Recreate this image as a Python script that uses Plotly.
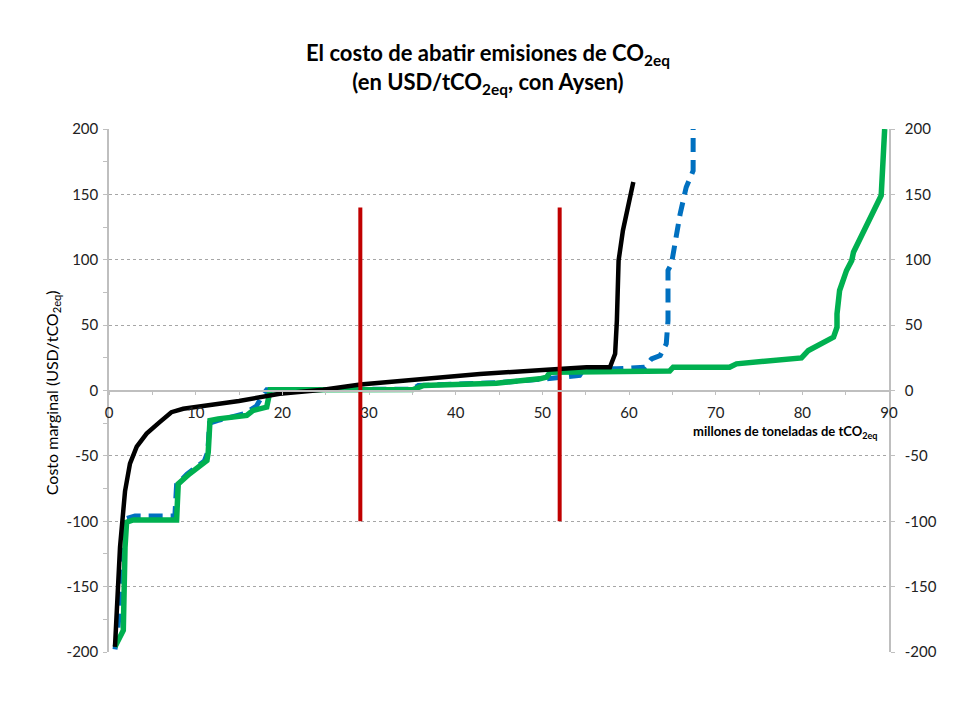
import plotly.graph_objects as go

# ---- data (millones de toneladas, USD/tCO2eq) ----
black_x = [0.69, 0.88, 1.27, 1.85, 2.42, 3.2, 4.34, 5.88, 7.2, 8.56, 15.0, 19.7, 24.7, 29.0, 32.4, 35.1, 42.8, 50.5, 55.1, 57.8, 58.4, 58.6, 58.8, 59.3, 59.9, 60.5]
black_y = [-196, -171, -120, -77, -56, -43, -33, -24, -16.6, -14, -8, -2.5, 0.5, 4.6, 6.4, 8.2, 12.7, 15.8, 17.8, 17.8, 28, 53.5, 99.4, 122.4, 140.3, 159.4]

blue_x = [0.69, 1.0, 1.4, 1.7, 2.0, 3.0, 7.6, 7.8, 9.0, 11.0, 11.4, 11.6, 12.5, 15.5, 17.0, 17.8, 18.2, 25.0, 35.0, 35.7, 36.5, 45.0, 50.5, 51.3, 52.4, 54.3, 54.8, 58.6, 61.8, 62.6, 63.6, 64.3, 64.5, 64.5, 64.9, 65.3, 65.9, 66.6, 67.4, 67.4]
blue_y = [-198, -185, -150, -120, -98, -96, -96, -72, -64, -54, -47, -25, -23, -18, -12, -3, 0.5, 0.8, 1.0, 3.8, 4.0, 6.0, 9.0, 9.7, 10.2, 11.5, 16.6, 16.6, 17.8, 24.2, 26.8, 35.7, 53.5, 91.8, 96.9, 112, 135, 155.5, 168, 200]

green_x = [0.69, 1.27, 1.65, 1.85, 2.03, 2.8, 7.8, 7.99, 9.3, 11.3, 11.45, 11.65, 12.6, 15.9, 16.6, 18.2, 18.6, 22.0, 35.1, 36.3, 44.7, 49.7, 50.5, 50.9, 56.7, 64.7, 65.1, 71.6, 72.4, 75.9, 79.3, 79.9, 80.7, 83.6, 84.0, 84.0, 84.3, 85.1, 85.7, 85.9, 89.1, 89.3, 89.5]
green_y = [-196, -188.7, -183.5, -120, -100.7, -99, -99, -71.4, -63.7, -53.5, -47.2, -22.9, -21.7, -19.1, -15.3, -12.7, 0.5, 0.5, 0.7, 3.8, 5.6, 8.9, 10.2, 14.0, 14.0, 15.0, 17.8, 17.8, 20.4, 22.9, 24.9, 24.9, 30.6, 40.8, 48.4, 58.6, 76.5, 91.8, 99.4, 105.8, 149.1, 168, 200]

red_x = [29, 52]
red_top = 140
red_bottom = -100

x_ticks = [0, 10, 20, 30, 40, 50, 60, 70, 80, 90]
y_ticks = [-200, -150, -100, -50, 0, 50, 100, 150, 200]

FONT = "Lato"
TICKCOL = "#222222"
GRID = "#A6A6A6"
AXCOL = "#BFBFBF"

fig = go.Figure()

fig.add_trace(go.Scatter(x=blue_x, y=blue_y, mode="lines",
                         line=dict(color="#0070C0", width=5, dash="14px,8px"),
                         hoverinfo="skip", showlegend=False))
fig.add_trace(go.Scatter(x=green_x, y=green_y, mode="lines",
                         line=dict(color="#00B050", width=5.5),
                         hoverinfo="skip", showlegend=False))
fig.add_trace(go.Scatter(x=black_x, y=black_y, mode="lines",
                         line=dict(color="#000000", width=4.5),
                         hoverinfo="skip", showlegend=False))

rx, ry = [], []
for v in red_x:
    rx += [v, v, None]
    ry += [red_top, red_bottom, None]
fig.add_trace(go.Scatter(x=rx, y=ry, mode="lines", yaxis="y2",
                         line=dict(color="#C00000", width=4),
                         hoverinfo="skip", showlegend=False))

yaxis_common = dict(
    range=[-200, 200], tickvals=y_ticks, ticktext=[str(v) for v in y_ticks],
    showline=True, linecolor=AXCOL, linewidth=1.5,
    ticks="outside", ticklen=4, tickcolor=AXCOL,
    zeroline=False, tickfont=dict(family=FONT, size=15, color=TICKCOL),
    fixedrange=True,
)

fig.update_layout(
    width=960, height=720,
    paper_bgcolor="white", plot_bgcolor="white",
    margin=dict(l=101, r=79, t=121, b=76),
    title=dict(
        text="El costo de abatir emisiones de CO<sub>2eq</sub><br>(en USD/tCO<sub>2eq</sub>, con Aysen)",
        x=0.5, xanchor="center", y=0.926, yanchor="top",
        font=dict(family=FONT, size=22, color="#000000", weight="bold"),
    ),
    xaxis=dict(
        range=[0, 90], tickvals=x_ticks, ticktext=[str(v) for v in x_ticks],
        anchor="free", position=0.5,
        showline=True, linecolor=AXCOL, linewidth=1.5,
        ticks="outside", ticklen=4, tickcolor=AXCOL,
        minor=dict(dtick=5, ticks="outside", ticklen=4, tickcolor=AXCOL),
        showgrid=False, zeroline=False, ticklabelstandoff=5,
        tickfont=dict(family=FONT, size=15, color=TICKCOL),
        fixedrange=True,
    ),
    yaxis=dict(**yaxis_common, side="left", ticklabelstandoff=2,
               minor=dict(dtick=25, ticks="outside", ticklen=4, tickcolor=AXCOL),
               showgrid=True, gridcolor=GRID, griddash="dot", gridwidth=1),
    yaxis2=dict(**yaxis_common, side="right", overlaying="y",
                ticklabelstandoff=7, showgrid=False),
    annotations=[
        dict(text="millones de toneladas de tCO<sub>2eq</sub>",
             xref="paper", yref="paper", x=0.987, y=0.4207,
             xanchor="right", yanchor="middle", showarrow=False,
             font=dict(family=FONT, size=13, color="#000000", weight="bold")),
        dict(text="Costo marginal (USD/tCO<sub>2eq</sub>)",
             xref="paper", yref="paper", x=-0.073, y=0.495,
             xanchor="center", yanchor="middle", textangle=-90,
             showarrow=False,
             font=dict(family=FONT, size=16, color="#000000")),
    ],
)

fig.write_html("out.html")
